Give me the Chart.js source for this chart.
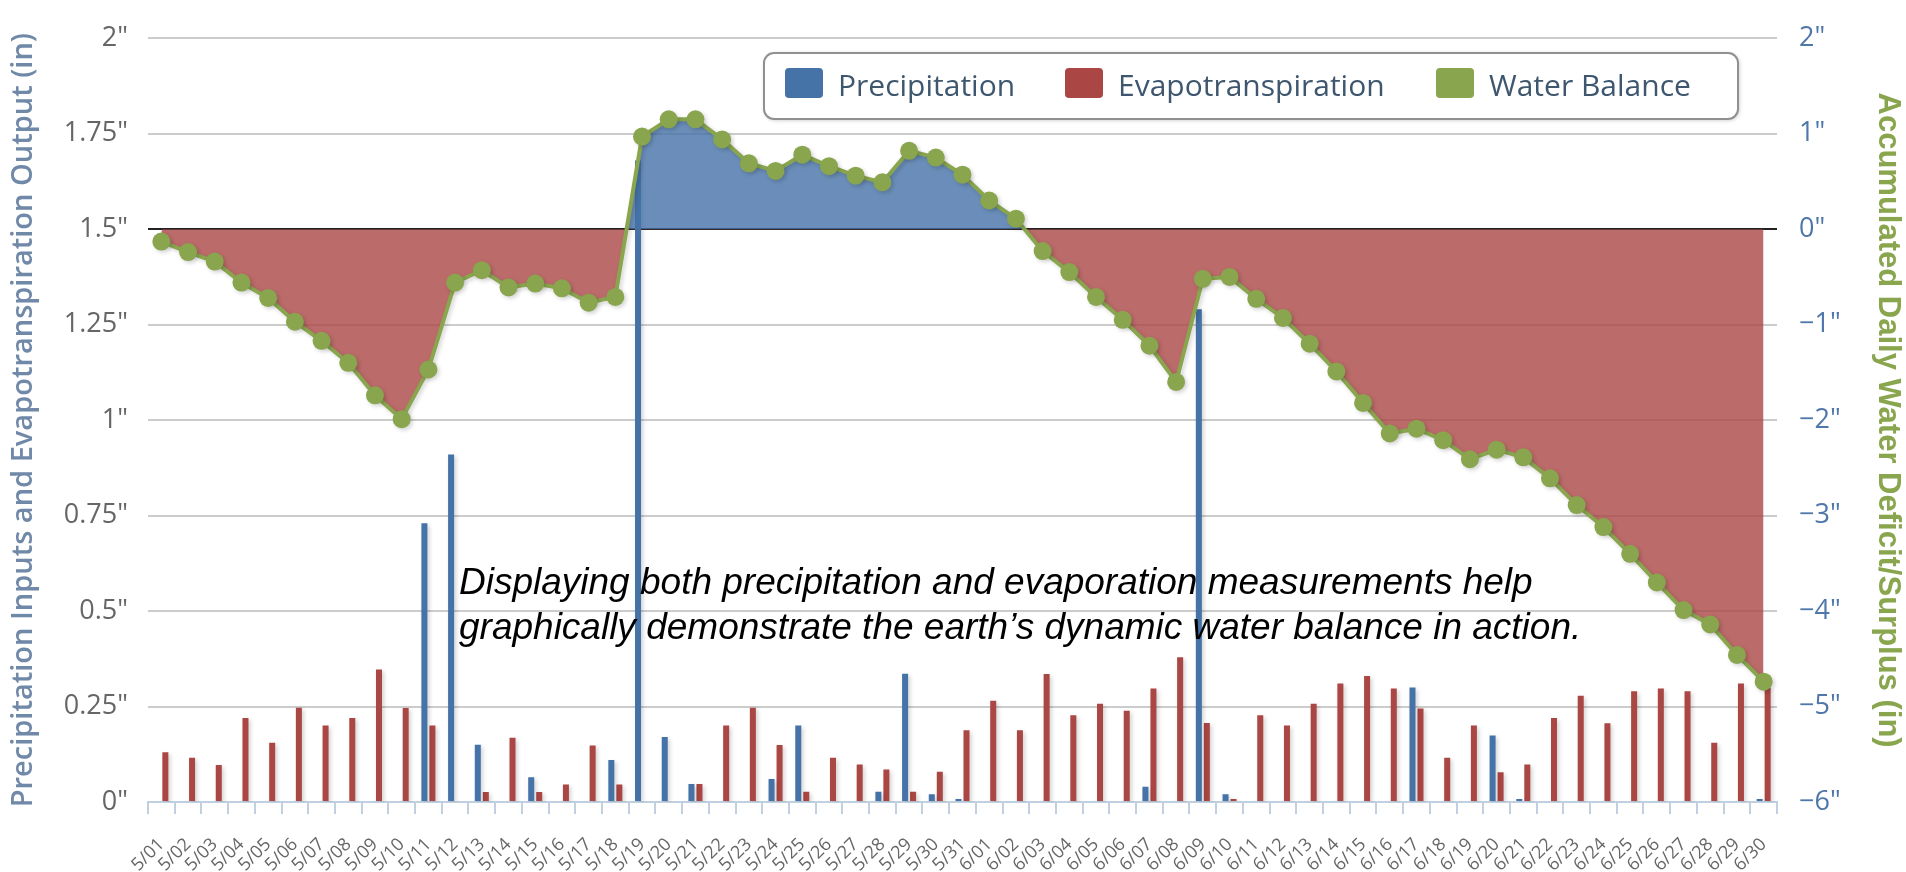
<!DOCTYPE html>
<html>
<head>
<meta charset="utf-8">
<script src="https://cdn.jsdelivr.net/npm/chart.js@4.4.1/dist/chart.umd.min.js"></script>
<style>
  html, body { margin: 0; padding: 0; background: #fff; }
  #wrap { position: relative; width: 1906px; height: 872px; }
</style>
</head>
<body>
<div id="wrap"><canvas id="balanceChart"></canvas></div>
<script>
// days 5/01 .. 6/30
const days = [
  '5/01','5/02','5/03','5/04','5/05','5/06','5/07','5/08','5/09','5/10',
  '5/11','5/12','5/13','5/14','5/15','5/16','5/17','5/18','5/19','5/20',
  '5/21','5/22','5/23','5/24','5/25','5/26','5/27','5/28','5/29','5/30','5/31',
  '6/01','6/02','6/03','6/04','6/05','6/06','6/07','6/08','6/09','6/10',
  '6/11','6/12','6/13','6/14','6/15','6/16','6/17','6/18','6/19','6/20',
  '6/21','6/22','6/23','6/24','6/25','6/26','6/27','6/28','6/29','6/30'
];

// inches per day
const precipitation = [
  0, 0, 0, 0, 0, 0, 0, 0, 0, 0,
  0.73, 0.91, 0.15, 0, 0.065, 0, 0, 0.11, 1.68, 0.17,
  0.047, 0, 0, 0.06, 0.20, 0, 0, 0.027, 0.336, 0.02, 0.008,
  0, 0, 0, 0, 0, 0, 0.04, 0, 1.29, 0.02,
  0, 0, 0, 0, 0, 0, 0.30, 0, 0, 0.174,
  0.008, 0, 0, 0, 0, 0, 0, 0, 0, 0.008
];

const evapotranspiration = [
  0.13, 0.116, 0.097, 0.22, 0.155, 0.247, 0.20, 0.22, 0.347, 0.246,
  0.20, 0, 0.026, 0.168, 0.026, 0.046, 0.148, 0.046, 0, 0,
  0.047, 0.20, 0.247, 0.149, 0.027, 0.116, 0.098, 0.085, 0.027, 0.079, 0.188,
  0.265, 0.188, 0.335, 0.227, 0.257, 0.239, 0.297, 0.379, 0.207, 0.008,
  0.227, 0.20, 0.257, 0.31, 0.33, 0.297, 0.245, 0.116, 0.20, 0.078,
  0.098, 0.22, 0.278, 0.206, 0.29, 0.297, 0.29, 0.155, 0.31, 0.30
];

// accumulated deficit / surplus (right axis)
const waterBalance = [
  -0.13, -0.24, -0.34, -0.56, -0.72, -0.97, -1.17, -1.40, -1.74, -1.99,
  -1.47, -0.56, -0.43, -0.61, -0.57, -0.62, -0.77, -0.71, 0.97, 1.15,
  1.15, 0.94, 0.69, 0.61, 0.78, 0.66, 0.56, 0.49, 0.82, 0.75, 0.57,
  0.30, 0.11, -0.23, -0.45, -0.71, -0.95, -1.22, -1.60, -0.52, -0.50,
  -0.73, -0.93, -1.20, -1.49, -1.82, -2.14, -2.09, -2.21, -2.41, -2.31,
  -2.39, -2.61, -2.89, -3.12, -3.40, -3.70, -3.99, -4.14, -4.46, -4.74
];

const leftTicks = [0, 0.25, 0.5, 0.75, 1, 1.25, 1.5, 1.75, 2];
const rightTicks = [-6, -5, -4, -3, -2, -1, 0, 1, 2];

const note = [
  'Displaying both precipitation and evaporation measurements help',
  'graphically demonstrate the earth\u2019s dynamic water balance in action.'
];

const BLUE = '#4572a7';
const RED = '#aa4643';
const GREEN = '#89a54e';

function inches(v) {
  return (v < 0 ? '\u2212' + Math.abs(v) : String(v)) + '"';
}

// legend box drawn inside the plot, like the original
const boxLegend = {
  id: 'boxLegend',
  afterDraw(chart) {
    const ctx = chart.ctx;
    ctx.save();
    ctx.shadowColor = 'rgba(0,0,0,0.25)';
    ctx.shadowBlur = 4;
    ctx.shadowOffsetX = 1;
    ctx.shadowOffsetY = 1;
    ctx.fillStyle = '#fff';
    ctx.strokeStyle = '#909090';
    ctx.lineWidth = 2;
    ctx.beginPath();
    ctx.roundRect(764, 53, 974, 66, 10);
    ctx.fill();
    ctx.shadowColor = 'transparent';
    ctx.stroke();

    ctx.font = '30px "Open Sans"';
    ctx.textBaseline = 'alphabetic';
    const ds = chart.data.datasets;
    const items = [ds[1], ds[2], ds[0]];
    const xs = [785, 1065, 1436];
    items.forEach((it, i) => {
      ctx.fillStyle = it.legendColor;
      ctx.beginPath();
      ctx.roundRect(xs[i], 68, 38, 30, 4);
      ctx.fill();
      ctx.fillStyle = '#3e576f';
      ctx.fillText(it.label, xs[i] + 53, 96);
    });
    ctx.restore();
  }
};

// soft drop shadow under bars and the line, as in the original
const dropShadow = {
  id: 'dropShadow',
  beforeDatasetDraw(chart) {
    const ctx = chart.ctx;
    ctx.save();
    ctx.shadowColor = 'rgba(0,0,0,0.18)';
    ctx.shadowBlur = 4;
    ctx.shadowOffsetX = 2;
    ctx.shadowOffsetY = 2;
  },
  afterDatasetDraw(chart) {
    chart.ctx.restore();
  }
};

const noteText = {
  id: 'noteText',
  afterDraw(chart) {
    const ctx = chart.ctx;
    ctx.save();
    ctx.font = 'italic 37px "Liberation Sans"';
    ctx.fillStyle = '#000';
    ctx.textAlign = 'left';
    ctx.textBaseline = 'alphabetic';
    ctx.fillText(note[0], 459, 594);
    ctx.fillText(note[1], 459, 639);
    ctx.restore();
  }
};

const ctx = document.getElementById('balanceChart').getContext('2d');
const chart = new Chart(ctx, {
  type: 'bar',
  data: {
    labels: days,
    datasets: [
      {
        type: 'line',
        label: 'Water Balance',
        data: waterBalance,
        yAxisID: 'y1',
        order: 0,
        borderColor: GREEN,
        borderWidth: 4,
        backgroundColor: GREEN,
        legendColor: GREEN,
        pointRadius: 9,
        pointBackgroundColor: GREEN,
        pointBorderWidth: 0,
        tension: 0,
        fill: {
          target: { value: 0 },
          above: 'rgba(69,114,167,0.8)',
          below: 'rgba(170,70,67,0.8)'
        }
      },
      {
        label: 'Precipitation',
        data: precipitation,
        yAxisID: 'y',
        order: 1,
        backgroundColor: BLUE,
        legendColor: BLUE,
        categoryPercentage: 0.6,
        barPercentage: 0.75
      },
      {
        label: 'Evapotranspiration',
        data: evapotranspiration,
        yAxisID: 'y',
        order: 1,
        backgroundColor: RED,
        legendColor: RED,
        categoryPercentage: 0.6,
        barPercentage: 0.75
      }
    ]
  },
  options: {
    responsive: true,
    maintainAspectRatio: false,
    animation: false,
    layout: { padding: { top: 35, left: 0, right: 0, bottom: 0 } },
    plugins: {
      legend: { display: false },
      tooltip: { enabled: false }
    },
    scales: {
      x: {
        grid: {
          offset: true,
          drawOnChartArea: false,
          color: '#c0d0e0',
          lineWidth: 2,
          tickLength: 12
        },
        border: { color: '#c0d0e0', width: 2 },
        ticks: {
          color: '#666',
          font: { family: 'Open Sans', size: 18 },
          minRotation: 45,
          maxRotation: 45,
          autoSkip: false,
          padding: 20
        },
        afterFit(scale) { scale.height = 70; }
      },
      y: {
        position: 'left',
        min: 0,
        max: 2,
        afterBuildTicks(scale) { scale.ticks = leftTicks.map(v => ({ value: v })); },
        grid: {
          drawTicks: false,
          lineWidth: 2,
          color: c => (c.tick && c.tick.value === 1.5 ? '#222' : '#cccccc')
        },
        border: { display: false },
        ticks: {
          color: '#666',
          padding: 20,
          font: { family: 'Open Sans', size: 27 },
          callback: v => inches(v)
        },
        title: {
          display: true,
          text: 'Precipitation Inputs and Evapotranspiration Output (in)',
          color: '#7189a8',
          font: { family: 'Open Sans', size: 29, weight: '600' },
          padding: { top: 6, bottom: 0 }
        },
        afterFit(scale) { scale.width = 148; }
      },
      y1: {
        position: 'right',
        min: -6,
        max: 2,
        afterBuildTicks(scale) { scale.ticks = rightTicks.map(v => ({ value: v })); },
        grid: { drawOnChartArea: false, drawTicks: false },
        border: { display: false },
        ticks: {
          color: '#4f77aa',
          padding: 22,
          font: { family: 'Open Sans', size: 27 },
          callback: v => inches(v)
        },
        title: {
          display: true,
          text: 'Accumulated Daily Water Deficit/Surplus (in)',
          color: GREEN,
          font: { family: 'Liberation Sans', size: 31, weight: 'bold' },
          padding: { top: 0, bottom: 10 }
        },
        afterFit(scale) { scale.width = 129; }
      }
    }
  },
  plugins: [dropShadow, boxLegend, noteText]
});
</script>
</body>
</html>
